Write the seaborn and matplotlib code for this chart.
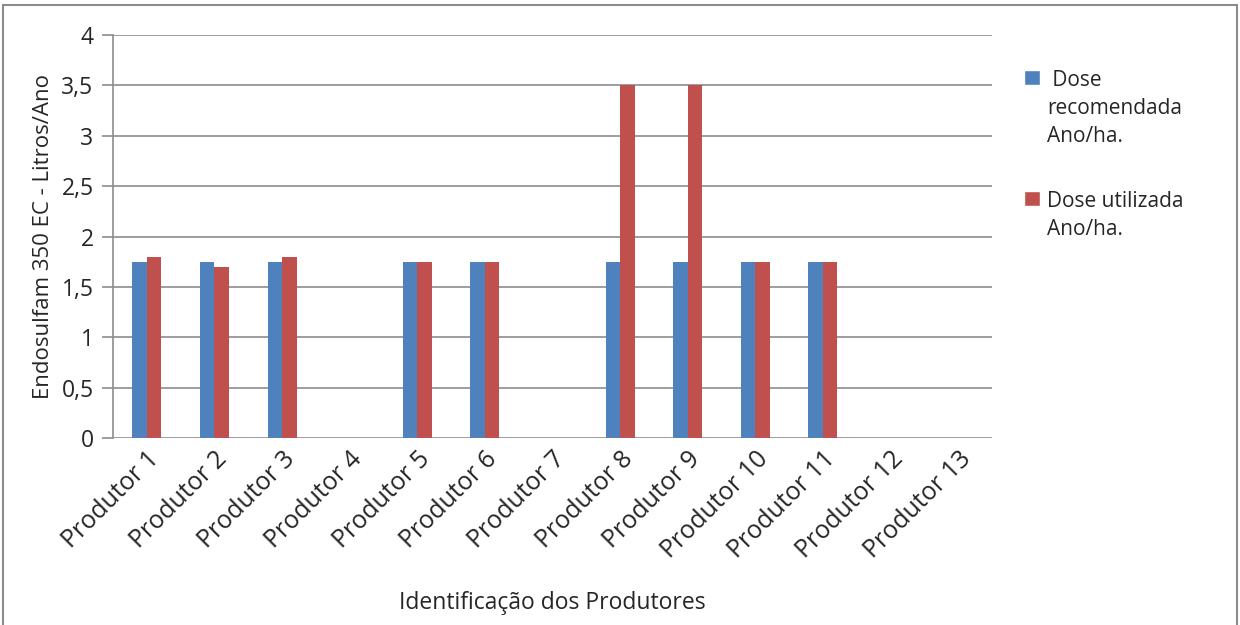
import numpy as np
import pandas as pd
import seaborn as sns
import matplotlib.pyplot as plt
from matplotlib.patches import Rectangle, Patch

# ---- data ----
produtores = ["Produtor %d" % i for i in range(1, 14)]
dose_recomendada = [1.75, 1.75, 1.75, np.nan, 1.75, 1.75, np.nan, 1.75, 1.75, 1.75, 1.75, np.nan, np.nan]
dose_utilizada = [1.8, 1.7, 1.8, np.nan, 1.75, 1.75, np.nan, 3.5, 3.5, 1.75, 1.75, np.nan, np.nan]
series_names = [" Dose\nrecomendada\nAno/ha.", "Dose utilizada\nAno/ha."]
colors = ["#4F81BD", "#C0504D"]

df = pd.DataFrame({
    "produtor": produtores * 2,
    "serie": [series_names[0]] * 13 + [series_names[1]] * 13,
    "valor": dose_recomendada + dose_utilizada,
})

sns.set_style("white")
plt.rcParams["font.family"] = ["Open Sans", "DejaVu Sans"]

fig = plt.figure(figsize=(12.4, 6.25), dpi=100)
ax = fig.add_axes([113 / 1240, 1 - 438 / 625, (992 - 113) / 1240, (438 - 35) / 625])

sns.barplot(data=df, x="produtor", y="valor", hue="serie", order=produtores,
            hue_order=series_names, palette=colors, width=0.43, saturation=1,
            linewidth=0, ax=ax, legend=False, zorder=3)

ax.set_ylim(0, 4)
ax.set_xlim(-0.5, 12.5)
ax.set_yticks(np.arange(0, 4.01, 0.5))
ax.set_yticklabels(["0", "0,5", "1", "1,5", "2", "2,5", "3", "3,5", "4"], fontsize=16.5)
ax.yaxis.grid(True, color="#8C8C8C", linewidth=1.2, zorder=0)
ax.set_axisbelow(True)
ax.tick_params(axis="y", direction="out", length=8, width=1.2, color="#8C8C8C", left=True, pad=6)
ax.tick_params(axis="x", length=0, pad=6)
ax.set_xticks(range(13))
ax.set_xticklabels(produtores, rotation=45, ha="right", rotation_mode="anchor", fontsize=18)

for side in ["top", "right", "bottom"]:
    ax.spines[side].set_visible(False)
ax.spines["left"].set_color("#8C8C8C")
ax.spines["left"].set_linewidth(1.2)

ax.set_xlabel("Identificação dos Produtores", fontsize=16.5, labelpad=20)
ax.set_ylabel("Endosulfam 350 EC - Litros/Ano", fontsize=16, labelpad=5)

handles = [Patch(facecolor=c) for c in colors]
leg = ax.legend(handles, series_names, loc="upper left", bbox_to_anchor=(1024 / 1240, 1 - 70 / 625),
                bbox_transform=fig.transFigure, frameon=False, fontsize=15,
                handlelength=0.75, handleheight=0.75, handletextpad=0.35, labelspacing=2.1,
                borderaxespad=0, borderpad=0)
for t in leg.get_texts():
    t.set_linespacing(1.45)
for col in leg._legend_handle_box.get_children():
    for row in col.get_children():
        row.align = "top"

# outer chart border
fig.patches.append(Rectangle((3 / 1240, -0.01), 1234 / 1240, 1 - 5 / 625 + 0.01,
                             transform=fig.transFigure, fill=False,
                             edgecolor="#8C8C8C", linewidth=1.5))

fig.savefig("out.png", dpi=100)
